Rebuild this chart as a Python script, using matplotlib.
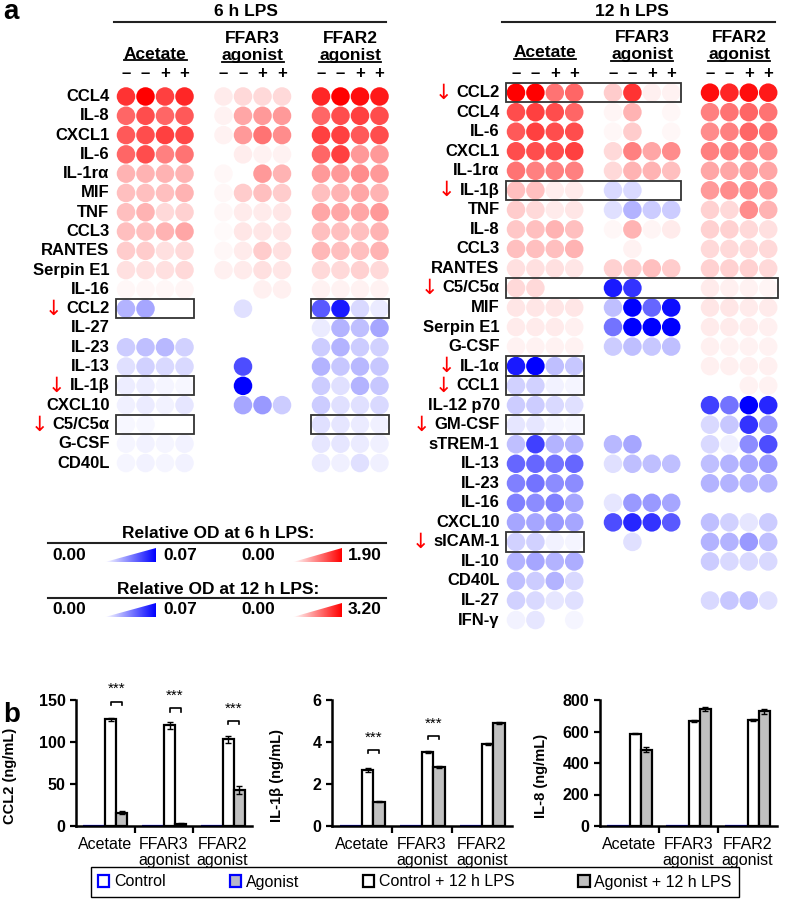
import numpy as np
import matplotlib.pyplot as plt
from matplotlib.patches import Rectangle, Polygon
from matplotlib.lines import Line2D
from matplotlib.colors import LinearSegmentedColormap

plt.rcParams['font.family'] = ['Liberation Sans', 'DejaVu Sans']
NARROW = ['Liberation Sans Narrow', 'Liberation Sans', 'DejaVu Sans']

W, H = 787, 908

# ---------------- panel a data ----------------
signs = ['–', '–', '+', '+']

rows_6h = ['CCL4', 'IL-8', 'CXCL1', 'IL-6', 'IL-1rα', 'MIF', 'TNF', 'CCL3',
           'RANTES', 'Serpin E1', 'IL-16', 'CCL2', 'IL-27', 'IL-23', 'IL-13',
           'IL-1β', 'CXCL10', 'C5/C5α', 'G-CSF', 'CD40L']
# spot intensity: Acetate x4, FFAR3 agonist x4, FFAR2 agonist x4 ; >0 red, <0 blue
od_6h = [
    [0.80, 1.00, 0.75, 0.85, 0.08, 0.15, 0.15, 0.15, 0.85, 1.00, 0.95, 0.90],
    [0.60, 0.70, 0.60, 0.65, 0.05, 0.35, 0.40, 0.40, 0.60, 0.70, 0.75, 0.70],
    [0.65, 0.70, 0.75, 0.72, 0.05, 0.40, 0.55, 0.45, 0.75, 0.75, 0.65, 0.70],
    [0.60, 0.70, 0.50, 0.55, 0.00, 0.07, 0.05, 0.05, 0.60, 0.75, 0.40, 0.40],
    [0.30, 0.30, 0.30, 0.30, 0.03, 0.00, 0.40, 0.30, 0.40, 0.40, 0.45, 0.40],
    [0.25, 0.25, 0.25, 0.30, 0.03, 0.20, 0.25, 0.20, 0.25, 0.30, 0.35, 0.30],
    [0.25, 0.30, 0.15, 0.18, 0.03, 0.08, 0.08, 0.10, 0.35, 0.35, 0.35, 0.40],
    [0.25, 0.25, 0.30, 0.35, 0.02, 0.10, 0.10, 0.10, 0.25, 0.25, 0.25, 0.30],
    [0.20, 0.20, 0.12, 0.15, 0.03, 0.08, 0.20, 0.12, 0.28, 0.25, 0.25, 0.30],
    [0.12, 0.12, 0.12, 0.15, 0.06, 0.08, 0.12, 0.10, 0.15, 0.15, 0.18, 0.15],
    [0.03, 0.03, 0.03, 0.04, 0.00, 0.00, 0.06, 0.06, 0.05, 0.05, 0.05, 0.05],
    [-0.30, -0.35, 0, 0, 0, -0.12, 0, 0, -0.65, -0.90, -0.15, -0.08],
    [0, 0, 0, 0, 0, 0, 0, 0, -0.08, -0.30, -0.25, -0.35],
    [-0.20, -0.25, -0.28, -0.18, 0, 0, 0, 0, -0.20, -0.30, -0.20, -0.18],
    [-0.12, -0.18, -0.15, -0.15, 0, -0.70, 0, 0, -0.30, -0.22, -0.28, -0.22],
    [-0.07, -0.07, -0.04, -0.03, 0, -1.00, 0, 0, -0.20, -0.12, -0.30, -0.22],
    [-0.06, -0.08, -0.05, -0.10, 0, -0.35, -0.40, -0.20, -0.20, -0.12, -0.12, -0.15],
    [-0.03, -0.03, 0, 0, 0, 0, 0, 0, -0.12, -0.10, -0.08, -0.06],
    [-0.04, -0.05, -0.04, -0.05, 0, 0, 0, 0, -0.10, -0.10, -0.08, -0.06],
    [-0.04, -0.05, -0.04, -0.05, 0, 0, 0, 0, -0.08, -0.06, -0.12, -0.06],
]
boxes_6h = [('CCL2', 0, 0), ('CCL2', 2, 2), ('IL-1β', 0, 0), ('C5/C5α', 0, 0), ('C5/C5α', 2, 2)]
down_6h = ['CCL2', 'IL-1β', 'C5/C5α']

rows_12h = ['CCL2', 'CCL4', 'IL-6', 'CXCL1', 'IL-1rα', 'IL-1β', 'TNF', 'IL-8',
            'CCL3', 'RANTES', 'C5/C5α', 'MIF', 'Serpin E1', 'G-CSF', 'IL-1α',
            'CCL1', 'IL-12 p70', 'GM-CSF', 'sTREM-1', 'IL-13', 'IL-23', 'IL-16',
            'CXCL10', 'sICAM-1', 'IL-10', 'CD40L', 'IL-27', 'IFN-γ']
od_12h = [
    [1.00, 1.00, 0.55, 0.60, 0.20, 0.80, 0.06, 0.05, 0.95, 0.85, 0.95, 0.90],
    [0.70, 0.75, 0.70, 0.60, 0.04, 0.30, 0.00, 0.03, 0.50, 0.55, 0.60, 0.55],
    [0.65, 0.75, 0.70, 0.70, 0.03, 0.20, 0.00, 0.03, 0.45, 0.50, 0.60, 0.55],
    [0.70, 0.70, 0.70, 0.75, 0.15, 0.50, 0.35, 0.45, 0.50, 0.50, 0.50, 0.45],
    [0.55, 0.50, 0.50, 0.50, 0.15, 0.30, 0.30, 0.25, 0.35, 0.35, 0.40, 0.35],
    [0.25, 0.25, 0.07, 0.08, -0.15, -0.15, 0, 0, 0.40, 0.45, 0.45, 0.40],
    [0.20, 0.15, 0.08, 0.10, -0.12, -0.30, -0.20, -0.20, 0.18, 0.15, 0.45, 0.30],
    [0.22, 0.25, 0.30, 0.25, 0.03, 0.30, 0.04, 0.08, 0.18, 0.18, 0.15, 0.12],
    [0.25, 0.25, 0.25, 0.30, 0.00, 0.05, 0.00, 0.00, 0.15, 0.15, 0.15, 0.15],
    [0.12, 0.12, 0.12, 0.10, 0.18, 0.20, 0.25, 0.20, 0.18, 0.18, 0.18, 0.15],
    [0.15, 0.15, 0, 0, -0.90, -0.80, 0, 0, 0.08, 0.06, 0.05, 0.04],
    [0.10, 0.10, 0.10, 0.10, -0.25, -1.00, -0.60, -0.95, 0.10, 0.10, 0.08, 0.08],
    [0.08, 0.08, 0.08, 0.06, -0.55, -1.00, -1.00, -1.00, 0.08, 0.08, 0.07, 0.06],
    [0.05, 0.05, 0.05, 0.05, -0.20, -0.25, -0.22, -0.25, 0.06, 0.05, 0.05, 0.05],
    [-0.90, -1.00, -0.25, -0.22, 0, 0, 0, 0, 0.06, 0.06, 0.06, 0.06],
    [-0.18, -0.18, -0.05, -0.04, 0, 0, 0, 0, 0, 0, 0.05, 0.05],
    [-0.20, -0.20, -0.15, -0.12, 0, 0, 0, 0, -0.75, -0.55, -1.00, -0.85],
    [-0.10, -0.10, -0.04, -0.03, 0, 0, 0, 0, -0.15, -0.22, -0.80, -0.40],
    [-0.25, -0.75, -0.30, -0.30, -0.28, -0.35, 0, 0, -0.15, -0.06, -0.45, -0.70],
    [-0.60, -0.60, -0.55, -0.60, -0.12, -0.25, -0.25, -0.25, -0.25, -0.30, -0.35, -0.40],
    [-0.50, -0.55, -0.45, -0.45, 0, 0, 0, 0, -0.30, -0.30, -0.30, -0.30],
    [-0.50, -0.45, -0.50, -0.35, -0.10, -0.40, -0.40, -0.35, 0, 0, 0, 0],
    [-0.35, -0.35, -0.40, -0.35, -0.70, -0.85, -0.80, -0.65, -0.25, -0.18, -0.10, -0.20],
    [-0.18, -0.18, -0.05, -0.04, 0, -0.12, 0, 0, -0.30, -0.30, -0.40, -0.25],
    [-0.30, -0.35, -0.30, -0.32, 0, 0, 0, 0, -0.20, -0.15, -0.15, -0.15],
    [-0.25, -0.20, -0.30, -0.15, 0, 0, 0, 0, 0, 0, 0, 0],
    [-0.18, -0.15, -0.10, -0.12, 0, 0, 0, 0, -0.15, -0.22, -0.25, -0.12],
    [-0.05, -0.10, 0, -0.04, 0, 0, 0, 0, 0, 0, 0, 0],
]
boxes_12h = [('CCL2', 0, 1), ('IL-1β', 0, 1), ('C5/C5α', 0, 2), ('IL-1α', 0, 0),
             ('CCL1', 0, 0), ('GM-CSF', 0, 0), ('sICAM-1', 0, 0)]
down_12h = ['CCL2', 'IL-1β', 'C5/C5α', 'IL-1α', 'CCL1', 'GM-CSF', 'sICAM-1']

# ---------------- panel b data ----------------
bar_cats = ['Acetate', 'FFAR3\nagonist', 'FFAR2\nagonist']
bar_series = ['Control', 'Agonist', 'Control + 12 h LPS', 'Agonist + 12 h LPS']
no_lps = [0, 0, 0]
ccl2_ctrl = [127, 120, 103]
ccl2_ctrl_err = [1.5, 4, 4]
ccl2_ag = [16, 2, 43]
ccl2_ag_err = [2, 1, 5]
il1b_ctrl = [2.67, 3.51, 3.90]
il1b_ctrl_err = [0.08, 0.05, 0.05]
il1b_ag = [1.16, 2.83, 4.92]
il1b_ag_err = [0.04, 0.05, 0.05]
il8_ctrl = [585, 665, 673]
il8_ctrl_err = [4, 6, 8]
il8_ag = [484, 743, 728]
il8_ag_err = [15, 12, 18]
ccl2_sig = [(0, 148, 163), (1, 140, 155), (2, 125, 139)]
il1b_sig = [(0, 3.62, 4.18), (1, 4.29, 4.89)]

fig = plt.figure(figsize=(W / 100, H / 100), dpi=100)


def px_axes(x0, x1, y0, y1):
    return fig.add_axes([x0 / W, 1 - y1 / H, (x1 - x0) / W, (y1 - y0) / H])


ov = fig.add_axes([0, 0, 1, 1], zorder=0)
ov.patch.set_alpha(0)

underlined = []


def heatmap(ax, rows, od, boxes, down, sign_y, name_y, top_y):
    v = np.array(od)
    r, c = np.nonzero(v)
    x = c // 4 * 5 + c % 4
    t = np.abs(v[r, c])[:, None]
    base = np.where((v[r, c] > 0)[:, None], [1.0, 0, 0], [0, 0, 1.0])
    ax.scatter(x, r, s=178, c=1 - t * (1 - base), marker='o', linewidths=0, clip_on=False)
    for i, lab in enumerate(rows):
        txt = ax.text(-0.85, i, lab, ha='right', va='center', fontsize=12, fontweight='bold')
        if lab in down:
            ax.annotate('↓', xy=(0, 0.5), xycoords=txt, xytext=(-3, 0), textcoords='offset points',
                        ha='right', va='center', color='red', fontsize=15, family='DejaVu Sans')
    for lab, g0, g1 in boxes:
        i = rows.index(lab)
        ax.add_patch(Rectangle((g0 * 5 - 0.5, i - 0.5), (g1 - g0) * 5 + 4, 1, fill=False,
                               ec='#333333', lw=1.3, clip_on=False))
    for g in range(3):
        for j, s in enumerate(signs):
            ax.text(g * 5 + j, sign_y, s, ha='center', va='center', fontsize=12, fontweight='bold')
    underlined.append(ax.text(1.5, name_y, 'Acetate', ha='center', va='center',
                              fontsize=12.5, fontweight='bold'))
    for g, nm in [(1, 'FFAR3'), (2, 'FFAR2')]:
        ax.text(g * 5 + 1.5, top_y, nm, ha='center', va='center', fontsize=12.5, fontweight='bold')
        underlined.append(ax.text(g * 5 + 1.5, name_y + 0.1, 'agonist', ha='center', va='center',
                                  fontsize=12.5, fontweight='bold'))
    ax.set_xlim(-0.5, 13.5)
    ax.set_ylim(len(rows) - 0.5, -0.5)
    ax.axis('off')


ax6 = px_axes(116.25, 389.25, 86.85, 472.65)
heatmap(ax6, rows_6h, od_6h, boxes_6h, down_6h, -1.17, -2.2, -3.02)
ax12 = px_axes(506.3, 777.9, 82.9, 629.8)
heatmap(ax12, rows_12h, od_12h, boxes_12h, down_12h, -0.96, -2.05, -2.8)

# headers, panel letters, colour legends (figure pixel coordinates)
ov.text(3, 19, 'a', fontsize=20, fontweight='bold', va='baseline')
ov.text(3, 722, 'b', fontsize=20, fontweight='bold', va='baseline')
for xc, x0, x1, lab in [(246, 114, 386, '6 h LPS'), (632, 502, 775, '12 h LPS')]:
    ov.text(xc, 12, lab, ha='center', va='center', fontsize=12.5, fontweight='bold')
    ov.plot([x0, x1], [22, 22], color='#222222', lw=1.5)

blue_cm = LinearSegmentedColormap.from_list('wb', ['white', 'blue'])
red_cm = LinearSegmentedColormap.from_list('wr', ['white', 'red'])


def wedge(x0, x1, yb, yt, cmap):
    im = ov.imshow(np.linspace(0, 1, 200)[None, :], extent=[x0, x1, yb, yt], cmap=cmap,
                   aspect='auto', interpolation='bilinear')
    tri = Polygon([(x0, yb), (x1, yb), (x1, yt)], closed=True, fc='none', ec='none')
    ov.add_patch(tri)
    im.set_clip_path(tri)


for ty, ly, vy, hi in [(533, 543, 555, '1.90'), (590, 598, 610, '3.20')]:
    hrs = '6' if hi == '1.90' else '12'
    ov.text(218, ty, f'Relative OD at {hrs} h LPS:', ha='center', va='center',
            fontsize=12.5, fontweight='bold')
    ov.plot([48, 386], [ly, ly], color='#222222', lw=1.5)
    for xv, s in [(69, '0.00'), (180, '0.07'), (258, '0.00'), (365, hi)]:
        ov.text(xv, vy, s, ha='center', va='center', fontsize=12.5, fontweight='bold')
    wedge(105, 156, vy + 7, vy - 7, blue_cm)
    wedge(293, 342, vy + 7, vy - 7, red_cm)

ov.set_xlim(0, W)
ov.set_ylim(H, 0)
ov.axis('off')

# ---------------- panel b ----------------
charts = [
    (76, 252, 17, 'CCL2 (ng/mL)', 150, 50, ccl2_ctrl, ccl2_ctrl_err, ccl2_ag, ccl2_ag_err, ccl2_sig),
    (332, 512, 284, 'IL-1β (ng/mL)', 6, 2, il1b_ctrl, il1b_ctrl_err, il1b_ag, il1b_ag_err, il1b_sig),
    (600, 777, 548, 'IL-8 (ng/mL)', 800, 200, il8_ctrl, il8_ctrl_err, il8_ag, il8_ag_err, []),
]
w = 0.1875
pos = np.arange(3)
styles = [('white', 'blue'), ('#b8b8c8', 'blue'), ('white', 'black'), ('#c0c0c0', 'black')]
handles = []
for x0, x1, xl, ylab, ymax, step, ctrl, ctrl_err, ag, ag_err, sig in charts:
    ax = px_axes(x0, x1, 700, 826)
    heights = [no_lps, no_lps, ctrl, ag]
    errs = [None, None, ctrl_err, ag_err]
    hs = []
    for k in range(4):
        b = ax.bar(pos + (k - 1.5) * w, heights[k], w, color=styles[k][0],
                   edgecolor=styles[k][1], linewidth=1.6, yerr=errs[k],
                   error_kw=dict(ecolor='black', elinewidth=1, capsize=2.5, capthick=1))
        hs.append(b)
    handles = hs
    for g, yb, ys in sig:
        xa, xb = g + 0.5 * w, g + 1.5 * w
        d = ymax * 0.025
        ax.plot([xa, xa, xb, xb], [yb - d, yb, yb, yb - d], color='black', lw=1.2, clip_on=False)
        ax.text(g + w, ys, '***', ha='center', va='center', fontsize=11, clip_on=False)
    for s in ['top', 'right']:
        ax.spines[s].set_visible(False)
    for s in ['left', 'bottom']:
        ax.spines[s].set_linewidth(1.8)
    ax.set_xlim(-0.5, 2.5)
    ax.set_ylim(0, ymax)
    ax.set_yticks(np.arange(0, ymax + step / 2, step))
    ax.tick_params(axis='y', direction='out', length=4, width=1.6, labelsize=11.5)
    for lb in ax.get_yticklabels():
        lb.set_fontweight('bold')
    ax.set_xticks(pos)
    ax.set_xticklabels(bar_cats, fontsize=11.5, family=NARROW, linespacing=1.05)
    ax.tick_params(axis='x', which='major', length=0, pad=8)
    ax.set_xticks([0.5, 1.5], minor=True)
    ax.tick_params(axis='x', which='minor', direction='out', length=5, width=1.6)
    ax.set_ylabel(ylab, fontsize=10.5, fontweight='bold')
    ax.yaxis.set_label_coords((xl - x0) / (x1 - x0), 0.4)

leg = fig.legend(handles=handles, labels=bar_series, ncol=4, loc='center',
                 bbox_to_anchor=(415 / W, 1 - 882 / H), frameon=True, fancybox=False,
                 edgecolor='black', framealpha=1, prop={'family': NARROW, 'size': 11.5},
                 handlelength=0.7, handleheight=0.7, handletextpad=0.3,
                 columnspacing=4.0, borderpad=0.45)
leg.get_frame().set_linewidth(1.0)

# underline the group names
fig.canvas.draw()
rend = fig.canvas.get_renderer()
for t in underlined:
    bb = t.get_window_extent(rend)
    (fx0, fy), (fx1, _) = fig.transFigure.inverted().transform([(bb.x0, bb.y0 + 1.5), (bb.x1, bb.y0)])
    fig.add_artist(Line2D([fx0, fx1], [fy, fy], transform=fig.transFigure, color='black', lw=1.3))

fig.savefig('out.png', dpi=100)
